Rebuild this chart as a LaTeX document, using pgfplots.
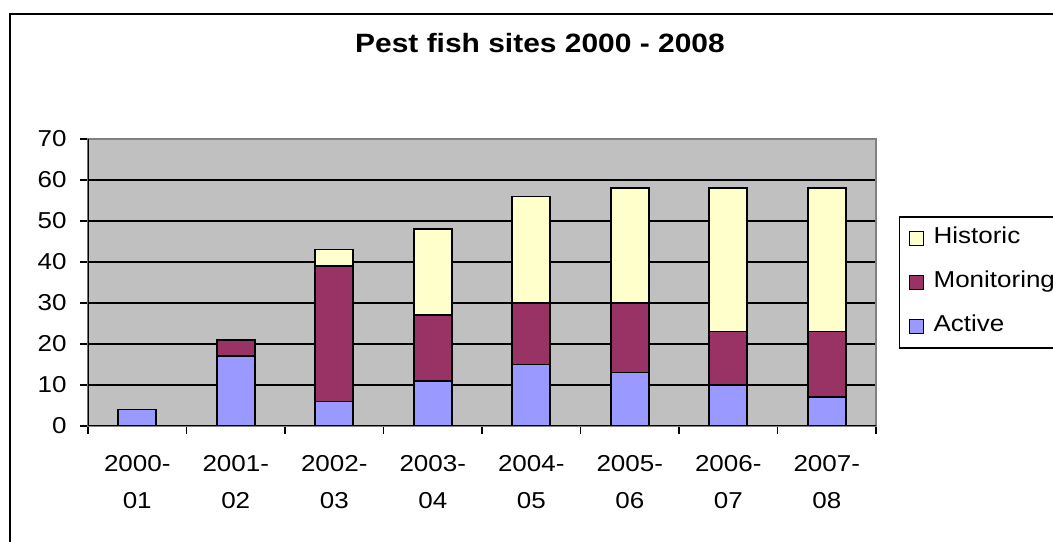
\documentclass[border=0pt]{standalone}
\usepackage{fontspec}
\setmainfont{Liberation Sans}[FakeStretch=1.13]
\usepackage{pgfplots}
\pgfplotsset{compat=1.18}
\definecolor{act}{HTML}{9999FF}
\definecolor{mon}{HTML}{993366}
\definecolor{his}{HTML}{FFFFCC}
\definecolor{plotbg}{HTML}{C0C0C0}
\definecolor{bordergray}{HTML}{808080}
\begin{document}
\begin{tikzpicture}[x=1bp,y=1bp]
\useasboundingbox (-88,-116) rectangle (965,426);
\clip (-88,-116) rectangle (965,426);
\draw[line width=2bp] (-77.5,-140) rectangle (1000,412);
\begin{axis}[
  at={(0,0)}, anchor=south west,
  scale only axis, width=788bp, height=287bp,
  xmin=-0.5, xmax=7.5, ymin=0, ymax=70,
  ybar stacked, bar width=38bp,
  axis background/.style={fill=plotbg},
  axis line style={draw=bordergray, line width=1.5bp},
  ymajorgrids, major grid style={black, line width=1.3bp},
  ytick={0,10,...,70},
  xtick={-0.5,0.5,1.5,2.5,3.5,4.5,5.5,6.5,7.5}, xticklabels={,,,,,,,,},
  extra x ticks={0,1,2,3,4,5,6,7},
  extra x tick labels={{2000-\\01},{2001-\\02},{2002-\\03},{2003-\\04},{2004-\\05},{2005-\\06},{2006-\\07},{2007-\\08}},
  extra x tick style={major tick length=0pt, grid=none},
  tick align=outside, major tick length=8bp,
  tick style={black, line width=1.3bp},
  tick pos=left,
  x tick label style={align=center, font=\fontsize{23bp}{37bp}\selectfont, yshift=-26bp},
  y tick label style={font=\fontsize{23bp}{26bp}\selectfont, xshift=-10bp},
  /pgf/number format/assume math mode=true,
  title={Pest fish sites 2000 - 2008},
  title style={at={(0.5736,1.282)}, anchor=base, font=\bfseries\fontsize{26.5bp}{30bp}\selectfont},
  reverse legend,
  legend cell align=left,
  legend style={at={(1.029,0.27)}, anchor=south west, draw=black, line width=1.5bp,
    font=\fontsize{23bp}{26bp}\selectfont, row sep=19bp,
    nodes={text height=16bp, text depth=5bp, inner sep=2bp},
    inner xsep=6bp, inner ysep=9bp},
  legend image code/.code={\draw[#1, line width=1.3bp] (4bp,-7bp) rectangle (18bp,7bp); \path[draw=none, fill=none] (0,0) -- (26bp,0);},
]
\addplot[fill=act, draw=black, line width=1.6bp] coordinates {(0,4) (1,17) (2,6) (3,11) (4,15) (5,13) (6,10) (7,7)};
\addlegendentry{\makebox[130bp][l]{Active}}
\addplot[fill=mon, draw=black, line width=1.6bp] coordinates {(0,0) (1,4) (2,33) (3,16) (4,15) (5,17) (6,13) (7,16)};
\addlegendentry{\makebox[130bp][l]{Monitoring}}
\addplot[fill=his, draw=black, line width=1.6bp] coordinates {(0,0) (1,0) (2,4) (3,21) (4,26) (5,28) (6,35) (7,35)};
\addlegendentry{\makebox[130bp][l]{Historic}}
\draw[black, line width=1.5bp] (rel axis cs:0,0) -- (rel axis cs:0,1);
\draw[black, line width=1.5bp] (rel axis cs:0,0) -- (rel axis cs:1,0);
\end{axis}
\end{tikzpicture}
\end{document}
